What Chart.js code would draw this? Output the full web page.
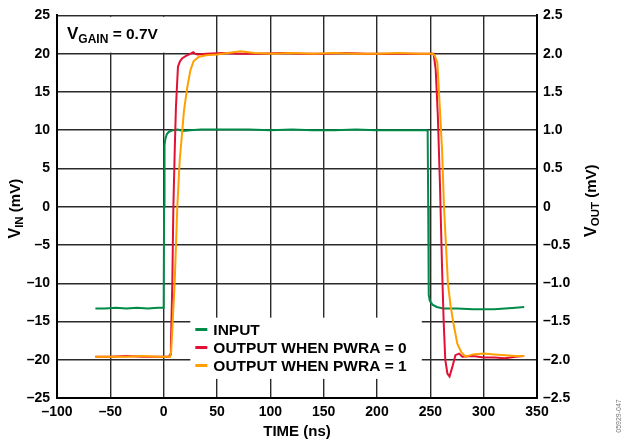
<!DOCTYPE html>
<html>
<head>
<meta charset="utf-8">
<script src="https://cdn.jsdelivr.net/npm/chart.js@4.4.0/dist/chart.umd.min.js"></script>
<style>
  body { margin: 0; background: #fff; }
  #wrap { width: 626px; height: 446px; }
</style>
</head>
<body>
<div id="wrap"><canvas id="myChart" width="626" height="446"></canvas></div>
<script>
// values
const seriesLabels = ['INPUT', 'OUTPUT WHEN PWRA = 0', 'OUTPUT WHEN PWRA = 1']

const timeAxis = [-100, 350, 50]   // min, max, step (ns)
const vinAxis = [-25, 25, 5]       // mV
const voutAxis = [-2.5, 2.5, 0.5]

const inputTime = [-64, -55, -45, -35, -25, -15, -5, 0, 0.4, 0.8, 1.5, 3, 5, 9, 13, 18, 25, 35,
  50, 65, 80, 100, 120, 140, 160, 180, 200, 220, 235, 247, 247.5, 248, 248.5, 249.5, 252, 256,
  262, 275, 290, 300, 310, 320, 330, 338]
const inputMv = [-13.3, -13.3, -13.2, -13.3, -13.2, -13.3, -13.2, -13.2, 0, 8, 8.8, 9.5, 9.8, 10.0, 10.1, 9.9, 10.0, 10.1,
  10.1, 10.1, 10.1, 10.0, 10.1, 10.0, 10.0, 10.1, 10.0, 10.0, 10.0, 10.0, 9.8, 0, -11.5, -12.3, -12.8, -13.1,
  -13.3, -13.3, -13.4, -13.4, -13.4, -13.3, -13.2, -13.1]

const pwra0Time = [-64, -50, -35, -20, -5, 5, 6, 6.8, 8.1, 9.1, 10.5, 11.5, 13.4, 15.3, 17.5, 21, 25.3, 27.8, 29.5, 31.6,
  40, 55, 70, 90, 110, 130, 150, 170, 190, 210, 230, 245, 253, 255, 257, 259, 261, 262.5, 264, 266,
  268, 270.5, 273.5, 277, 280, 290, 300, 310, 320, 330, 338]
const pwra0Out = [-1.96, -1.96, -1.95, -1.96, -1.96, -1.96, -1.93, -1.8, -1.0, 0, 0.8, 1.3, 1.83, 1.9, 1.94, 1.97, 2.0, 2.02, 2.0, 1.99,
  2.0, 2.01, 2.0, 2.0, 2.01, 2.0, 2.0, 2.01, 2.0, 2.0, 2.0, 2.0, 2.0, 1.8, 1.2, 0.3, -0.8, -1.5, -2.0, -2.18,
  -2.22, -2.1, -1.94, -1.92, -1.96, -1.95, -1.97, -1.97, -1.98, -1.96, -1.95]

const pwra1Time = [-64, -50, -35, -20, -5, 6, 7, 10.3, 12.8, 15, 17.5, 19, 22, 25, 28, 33, 40, 50, 60, 72,
  85, 103, 120, 140, 160, 180, 200, 220, 240, 252, 254, 256.6, 259, 261, 262.8, 266.5, 269, 272, 275.3, 279,
  283, 290, 300, 310, 320, 330, 338]
const pwra1Out = [-1.96, -1.96, -1.96, -1.95, -1.96, -1.96, -1.9, -1.0, 0, 0.6, 1.0, 1.25, 1.55, 1.78, 1.9, 1.96, 1.98, 1.99, 2.01, 2.03,
  2.01, 2.0, 2.01, 2.0, 2.01, 2.0, 2.0, 2.01, 2.0, 2.0, 1.98, 1.88, 1.27, 0.74, 0, -1.0, -1.3, -1.55, -1.79, -1.9,
  -1.96, -1.93, -1.92, -1.93, -1.94, -1.95, -1.95]

const colors = ['rgb(0, 140, 72)', 'rgb(226, 16, 52)', 'rgb(255, 160, 0)']
const fam = '"Liberation Sans", Arial, sans-serif'

function pts(xs, ys) {
  return xs.map((x, i) => ({ x: x, y: ys[i] }))
}

function minus(s) {
  return String(s).replace('-', '\u2013')
}

// text with a subscript, drawn left to right from (x, y)
function subText(ctx, x, y, parts) {
  let cx = x
  parts.forEach(p => {
    ctx.font = 'bold ' + p[1] + 'px ' + fam
    ctx.fillText(p[0], cx, y + (p[2] || 0))
    cx += ctx.measureText(p[0]).width
  })
  return cx - x
}

function measure(ctx, parts) {
  let w = 0
  parts.forEach(p => {
    ctx.font = 'bold ' + p[1] + 'px ' + fam
    w += ctx.measureText(p[0]).width
  })
  return w
}

const decor = {
  id: 'decor',
  beforeDatasetsDraw(chart) {
    const { ctx, chartArea, scales } = chart
    const x = scales.x, y = scales.y
    ctx.save()
    ctx.fillStyle = '#fff'
    // box behind the V_GAIN note
    ctx.fillRect(chartArea.left + 1.5, chartArea.top + 1.5,
      x.getPixelForValue(5) - chartArea.left - 1.5, y.getPixelForValue(20) - chartArea.top - 2.5)
    // legend box
    const lx0 = x.getPixelForValue(25), lx1 = x.getPixelForValue(242)
    const ly0 = y.getPixelForValue(-14.5), ly1 = y.getPixelForValue(-22.5)
    ctx.fillRect(lx0, ly0, lx1 - lx0, ly1 - ly0)

    const rows = [-16.05, -18.4, -20.75]
    ctx.textBaseline = 'middle'
    chart.data.datasets.forEach((ds, i) => {
      const ry = y.getPixelForValue(rows[i])
      ctx.strokeStyle = ds.borderColor
      ctx.lineWidth = 3
      ctx.beginPath()
      ctx.moveTo(lx0 + 5, ry)
      ctx.lineTo(lx0 + 17, ry)
      ctx.stroke()
      ctx.fillStyle = '#000'
      ctx.font = 'bold 15.5px ' + fam
      ctx.fillText(ds.label, lx0 + 23, ry + 1)
    })

    // V_GAIN note
    ctx.textBaseline = 'alphabetic'
    ctx.fillStyle = '#000'
    subText(ctx, chartArea.left + 10, chartArea.top + 24, [['V', 17], ['GAIN', 12, 4], [' = 0.7V', 15.5]])
    ctx.restore()
  },
  afterDraw(chart) {
    const { ctx, chartArea } = chart
    ctx.save()
    ctx.fillStyle = '#000'
    ctx.textBaseline = 'middle'
    const left = [['V', 16], ['IN', 11.5, 4], [' (mV)', 15]]
    const right = [['V', 16], ['OUT', 11.5, 4], [' (mV)', 15]]
    const mid = (chartArea.top + chartArea.bottom) / 2
    ctx.translate(16, mid + 2)
    ctx.rotate(-Math.PI / 2)
    subText(ctx, -measure(ctx, left) / 2, 0, left)
    ctx.restore()

    ctx.save()
    ctx.fillStyle = '#000'
    ctx.textBaseline = 'middle'
    ctx.translate(592, mid - 6)
    ctx.rotate(-Math.PI / 2)
    subText(ctx, -measure(ctx, right) / 2, 0, right)
    ctx.restore()

    ctx.save()
    ctx.fillStyle = '#777'
    ctx.font = '7px ' + fam
    ctx.textBaseline = 'middle'
    ctx.textAlign = 'center'
    ctx.translate(619, 416)
    ctx.rotate(-Math.PI / 2)
    ctx.fillText('05929-047', 0, 0)
    ctx.restore()
  }
}

const tickFont = { family: fam, size: 14, weight: 'bold' }
const gridStyle = { color: '#2a2a2a', lineWidth: 1.4, drawTicks: false }
const borderStyle = { color: '#000', width: 2 }

new Chart(document.getElementById('myChart'), {
  type: 'line',
  data: {
    datasets: [
      {
        label: seriesLabels[0],
        data: pts(inputTime, inputMv),
        yAxisID: 'y',
        borderColor: colors[0],
        backgroundColor: colors[0],
        borderWidth: 2,
        pointRadius: 0,
        tension: 0,
        order: 2,
      },
      {
        label: seriesLabels[1],
        data: pts(pwra0Time, pwra0Out),
        yAxisID: 'y1',
        borderColor: colors[1],
        backgroundColor: colors[1],
        borderWidth: 2,
        pointRadius: 0,
        tension: 0,
        order: 1,
      },
      {
        label: seriesLabels[2],
        data: pts(pwra1Time, pwra1Out),
        yAxisID: 'y1',
        borderColor: colors[2],
        backgroundColor: colors[2],
        borderWidth: 2,
        pointRadius: 0,
        tension: 0,
        order: 0,
      },
    ],
  },
  options: {
    responsive: false,
    animation: false,
    layout: { padding: { top: 15, left: 0, right: 0, bottom: 0 } },
    plugins: { legend: { display: false }, tooltip: { enabled: false } },
    scales: {
      x: {
        type: 'linear',
        min: timeAxis[0],
        max: timeAxis[1],
        ticks: { stepSize: timeAxis[2], font: tickFont, color: '#000', padding: 6, callback: v => minus(v), maxRotation: 0 },
        grid: gridStyle,
        border: borderStyle,
        title: { display: true, text: 'TIME (ns)', font: { family: fam, size: 15, weight: 'bold' }, color: '#000', padding: { top: 0, bottom: 5 } },
        afterFit: s => { s.height = 48 },
      },
      y: {
        position: 'left',
        min: vinAxis[0],
        max: vinAxis[1],
        ticks: { stepSize: vinAxis[2], font: tickFont, color: '#000', padding: 7, callback: v => minus(v) },
        grid: gridStyle,
        border: borderStyle,
        afterFit: s => { s.width = 57 },
      },
      y1: {
        position: 'right',
        min: voutAxis[0],
        max: voutAxis[1],
        ticks: { stepSize: voutAxis[2], font: tickFont, color: '#000', padding: 6,
          callback: v => v === 0 ? '0' : minus(v.toFixed(1)) },
        grid: { drawOnChartArea: false, drawTicks: false },
        border: borderStyle,
        afterFit: s => { s.width = 89 },
      },
    },
  },
  plugins: [decor],
})
</script>
</body>
</html>
